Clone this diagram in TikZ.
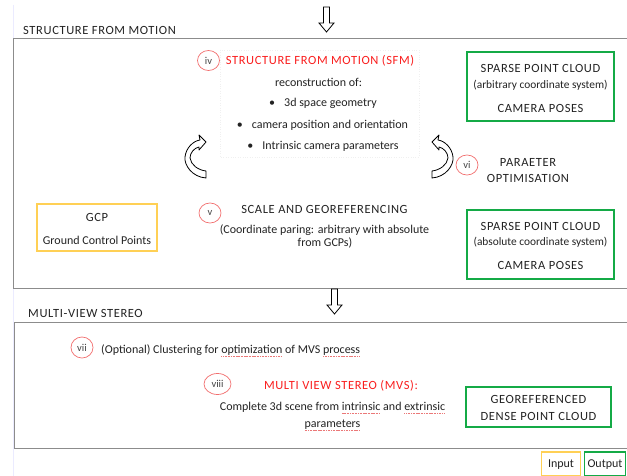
\documentclass[tikz,border=0pt]{standalone}
\usepackage{fontspec}
\setmainfont{Carlito}
\newfontfamily\capsfont{Carlito}[LetterSpace=5]
\usetikzlibrary{shapes.geometric}
\definecolor{sfmred}{RGB}{250,30,30}
\definecolor{boxgreen}{RGB}{20,170,70}
\definecolor{boxyellow}{RGB}{255,208,85}
\definecolor{circred}{RGB}{242,110,110}
\definecolor{framegray}{RGB}{140,140,140}
\definecolor{txt}{RGB}{35,35,35}
\definecolor{numgray}{RGB}{70,70,70}
\definecolor{squigred}{RGB}{235,120,120}
\newcommand\squig[1]{\setbox0\hbox{#1}\rlap{\raisebox{-2.8pt}{\hbox to \wd0{\color{squigred}\xleaders\hbox{\rule{1.1pt}{0.6pt}\hspace{0.5pt}}\hfill}}}#1}
\tikzset{
  framebox/.style={draw=framegray, line width=0.9pt},
  greenbox/.style={draw=boxgreen, line width=1.6pt, inner sep=0pt},
  yellowbox/.style={draw=boxyellow, line width=1.6pt, inner sep=0pt},
  numcirc/.style={draw=circred, line width=0.7pt, ellipse, inner sep=0pt, text=numgray, font=\fontsize{10.5}{12}\selectfont},
  tx/.style={text=txt, inner sep=0pt, font=\fontsize{12}{14}\selectfont},
  txs/.style={text=txt, inner sep=0pt, font=\fontsize{11.4}{14}\selectfont},
  cx/.style={text=txt, inner sep=0pt, font=\capsfont\fontsize{12.5}{14}\selectfont},
  redhead/.style={text=sfmred, inner sep=0pt, font=\capsfont\fontsize{12.5}{14}\selectfont},
  outlinearrow/.style={draw=black, line width=0.8pt, fill=white, line join=miter},
  curvarrow/.pic={
    \draw[outlinearrow, line join=round] (10,21) .. controls (-4,20) and (-12,8) .. (-11,0)
      .. controls (-10,-9) and (-3,-16) .. (4,-17) -- (3,-22) -- (10,-15) -- (3,-7) -- (3,-10)
      .. controls (-2,-9) and (-6,-4) .. (-6,1) .. controls (-5,8) and (2,13) .. (10,14) -- cycle;
  },
  downarrow/.pic={
    \draw[outlinearrow] (-3,0) -- (3,0) -- (3,16) -- (7.5,16) -- (0,25) -- (-7.5,16) -- (-3,16) -- cycle;
  }
}
\begin{document}
\begin{tikzpicture}[x=1pt,y=-1pt]
\clip (0,0) rectangle (627,476);
\fill[white] (0,0) rectangle (627,476);
\draw[blue!8] (13,5) -- (13,476);

% section frames
\node[cx, anchor=west] (sfmtitle) at (23,30) {STRUCTURE FROM MOTION};
\draw[framebox] (13,38) rectangle (660,288);
\node[cx, anchor=west] (mvstitle) at (28,313) {MULTI-VIEW STEREO};
\draw[framebox] (14,322) rectangle (660,448);

% down arrows
\pic at (326.5,7) {downarrow};
\pic at (334.5,289) {downarrow};

% SFM block
\draw[gray!12, dotted] (220,50) rectangle (419,157);
\node[numcirc, minimum width=22pt, minimum height=20pt] (iv) at (208.5,60.5) {iv};
\node[redhead] (sfm) at (320,61) {STRUCTURE FROM MOTION (SFM)};
\node[tx] (recon) at (318.5,82) {reconstruction of:};
\node[tx] (b1) at (323,103) {•\hspace{9pt}3d space geometry};
\node[tx] (b2) at (322.5,125) {•\hspace{9pt}camera position and orientation};
\node[tx] (b3) at (323,146) {•\hspace{9pt}Intrinsic camera parameters};

% green box 1
\node[greenbox, minimum width=147pt, minimum height=69pt] (out1) at (540.5,86.5) {};
\node[cx] (o1a) at (540.5,68.5) {SPARSE POINT CLOUD};
\node[txs] (o1b) at (540.5,85) {(arbitrary coordinate system)};
\node[cx] (o1c) at (540.5,108) {CAMERA POSES};

% curved arrows
\pic at (196,157) {curvarrow};
\pic[xscale=-1] at (442,157) {curvarrow};

% parameter optimisation
\node[numcirc, minimum width=22pt, minimum height=20pt] (vi) at (467,165) {vi};
\node[cx] (po1) at (528,162) {PARAETER};
\node[cx] (po2) at (528,178.5) {OPTIMISATION};

% GCP
\node[yellowbox, minimum width=120pt, minimum height=47pt] (gcp) at (97,227.5) {};
\node[cx] (gcpa) at (97,217) {GCP};
\node[tx] (gcpb) at (97,240) {Ground Control Points};

% scale and georeferencing
\node[numcirc, minimum width=22pt, minimum height=20pt] (v) at (210,213) {v};
\node[cx] (sg) at (324.5,209.5) {SCALE AND GEOREFERENCING};
\node[tx] (sg1) at (324.5,230.5) {(Coordinate paring: arbitrary with absolute};
\node[tx] (sg2) at (325,243) {from GCPs)};

% green box 2
\node[greenbox, minimum width=147pt, minimum height=69pt] (out2) at (540.5,244.5) {};
\node[cx] (o2a) at (540.5,226) {SPARSE POINT CLOUD};
\node[txs] (o2b) at (540.5,242) {(absolute coordinate system)};
\node[cx] (o2c) at (540.5,265) {CAMERA POSES};

% MVS block
\node[numcirc, minimum width=22pt, minimum height=21pt] (vii) at (82,347.5) {vii};
\node[tx, anchor=west] (clus) at (101,351) {(Optional) Clustering for \squig{optimization} of MVS \squig{process}};
\node[numcirc, minimum width=27pt, minimum height=21pt] (viii) at (217.5,384) {viii};
\node[redhead] (mvs) at (341,385.5) {MULTI VIEW STEREO (MVS):};
\node[tx] (mvs1) at (332.5,408) {Complete 3d scene from \squig{intrinsic} and \squig{extrinsic}};
\node[tx] (mvs2) at (332.5,425) {\squig{parameters}};

% green box 3
\node[greenbox, minimum width=145pt, minimum height=40pt] (out3) at (538.5,407) {};
\node[cx] (o3a) at (538.5,399.5) {GEOREFERENCED};
\node[cx] (o3b) at (538.5,416) {DENSE POINT CLOUD};

% legend
\node[yellowbox, minimum width=39pt, minimum height=24pt] (lin) at (561,464) {};
\node[tx] (lint) at (561,464.5) {Input};
\node[greenbox, minimum width=41pt, minimum height=24pt] (lout) at (605,464) {};
\node[tx] (loutt) at (605,464.5) {Output};
\end{tikzpicture}
\end{document}
